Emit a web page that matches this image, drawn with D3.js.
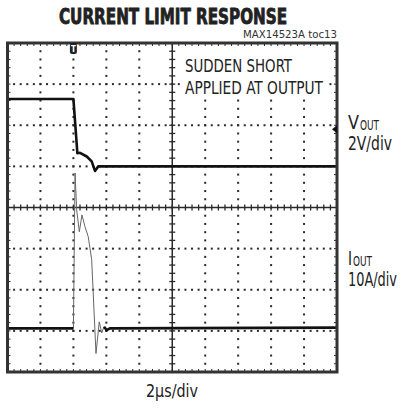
<!DOCTYPE html>
<html>
<head>
<meta charset="utf-8">
<script src="https://cdn.jsdelivr.net/npm/d3@7"></script>
<style>
  body { margin: 0; background: #fff; }
  text { font-family: "Liberation Sans Narrow", "DejaVu Sans Condensed", "Liberation Sans", sans-serif; }
</style>
</head>
<body>
<script>
// time in us relative to trigger (2us/div), levels in divisions from screen centre
const vout_t = [-4, 0.0, 0.24, 0.40, 0.81, 1.11, 1.31, 1.51, 16];
const vout_v = [2.64, 2.64, 1.32, 1.33, 1.24, 1.12, 0.89, 1.00, 1.00];

const iout_t = [-4, 0.0, 0.10, 0.20, 0.36, 0.52, 0.70, 0.90, 1.11, 1.37, 1.57, 1.72, 1.86, 2.02, 2.22, 16];
const iout_v = [-2.94, -2.94, 0.84, -0.06, -0.59, -0.18, -0.46, -0.71, -1.27, -3.55, -2.78, -3.05, -2.90, -2.98, -2.94, -2.92];

const xDivs = d3.range(-4, 16.001, 2);
const yDivs = d3.range(-4, 4.001, 1);
const voutRef = 1.9;

const W = 402, H = 411;
const plot = {left: 7.5, right: 337, top: 43, bottom: 372};

const svg = d3.select('body').append('svg')
    .attr('width', W)
    .attr('height', H);

const x = d3.scaleLinear().domain([-4, 16]).range([plot.left, plot.right]);
const y = d3.scaleLinear().domain([-4, 4]).range([plot.bottom, plot.top]);

const ink = '#2a2a2a';

// dotted graticule
const minorX = d3.range(-4, 16.001, 0.4);
const minorY = d3.range(-4, 4.001, 0.2);
const grid = svg.append('g');
xDivs.filter(d => d > -4 && d < 16 && d !== 6).forEach(d => {
    grid.selectAll(null)
        .data(minorY.filter(v => v > -4 && v < 4))
        .enter().append('rect')
        .attr('x', x(d) - 1).attr('y', v => y(v) - 1)
        .attr('width', 2).attr('height', 2)
        .attr('fill', ink);
});
yDivs.filter(d => d > -4 && d < 4 && d !== 0).forEach(d => {
    grid.selectAll(null)
        .data(minorX.filter(v => v > -4 && v < 16))
        .enter().append('rect')
        .attr('x', v => x(v) - 1).attr('y', y(d) - 1)
        .attr('width', 2).attr('height', 2)
        .attr('fill', ink);
});

// white box under the annotation
svg.append('rect')
    .attr('x', 180).attr('y', 48).attr('width', 148).attr('height', 50)
    .attr('fill', '#fff');

// centre axes with minor ticks
const axes = svg.append('g').attr('stroke', ink);
axes.append('line')
    .attr('x1', x(6)).attr('x2', x(6)).attr('y1', plot.top).attr('y2', plot.bottom)
    .attr('stroke-width', 1.5);
axes.append('line')
    .attr('x1', plot.left).attr('x2', plot.right).attr('y1', y(0)).attr('y2', y(0))
    .attr('stroke-width', 1.5);
axes.selectAll('.cy').data(minorY).enter().append('line')
    .attr('x1', x(6) - 3).attr('x2', x(6) + 3)
    .attr('y1', d => y(d)).attr('y2', d => y(d))
    .attr('stroke-width', 1.3);
axes.selectAll('.cx').data(minorX).enter().append('line')
    .attr('x1', d => x(d)).attr('x2', d => x(d))
    .attr('y1', y(0) - 3).attr('y2', y(0) + 3)
    .attr('stroke-width', 1.3);

// edge ticks
axes.selectAll('.tt').data(minorX).enter().append('line')
    .attr('x1', d => x(d)).attr('x2', d => x(d))
    .attr('y1', plot.top).attr('y2', plot.top + 3)
    .attr('stroke-width', 1);
axes.selectAll('.tb').data(minorX).enter().append('line')
    .attr('x1', d => x(d)).attr('x2', d => x(d))
    .attr('y1', plot.bottom - 3).attr('y2', plot.bottom)
    .attr('stroke-width', 1);
axes.selectAll('.tl').data(minorY).enter().append('line')
    .attr('x1', plot.left).attr('x2', plot.left + 3)
    .attr('y1', d => y(d)).attr('y2', d => y(d))
    .attr('stroke-width', 1);
axes.selectAll('.tr').data(minorY).enter().append('line')
    .attr('x1', plot.right - 3).attr('x2', plot.right)
    .attr('y1', d => y(d)).attr('y2', d => y(d))
    .attr('stroke-width', 1);

// traces
const line = d3.line().x(d => x(d[0])).y(d => y(d[1]));
const vout = vout_t.map((t, i) => [t, vout_v[i]]);
const iout = iout_t.map((t, i) => [t, iout_v[i]]);

svg.append('path')
    .attr('d', line(iout))
    .attr('fill', 'none')
    .attr('stroke', '#666')
    .attr('stroke-width', 1);
svg.append('path')
    .attr('d', line(iout.filter(d => d[0] <= 0)))
    .attr('fill', 'none').attr('stroke', '#111').attr('stroke-width', 2.6);
svg.append('path')
    .attr('d', line(iout.filter(d => d[0] >= 1.86)))
    .attr('fill', 'none').attr('stroke', '#111').attr('stroke-width', 2.6);

svg.append('path')
    .attr('d', line(vout))
    .attr('fill', 'none')
    .attr('stroke', '#111')
    .attr('stroke-width', 2.6)
    .attr('stroke-linejoin', 'round');

// frame
svg.append('rect')
    .attr('x', plot.left).attr('y', plot.top)
    .attr('width', plot.right - plot.left).attr('height', plot.bottom - plot.top)
    .attr('fill', 'none').attr('stroke', '#333').attr('stroke-width', 3);

// trigger marker
const tg = svg.append('g').attr('transform', `translate(${x(0)},${plot.top})`);
tg.append('rect').attr('x', -3.5).attr('y', 0).attr('width', 7).attr('height', 11).attr('rx', 2).attr('fill', '#222');
tg.append('text').attr('x', 0).attr('y', 9).attr('text-anchor', 'middle')
    .attr('font-size', 8).attr('font-weight', 'bold').attr('fill', '#fff').text('T');

// vout reference marker
svg.append('path')
    .attr('d', `M${plot.right - 5},${y(voutRef)} L${plot.right},${y(voutRef) - 4} L${plot.right},${y(voutRef) + 4} Z`)
    .attr('fill', '#111');

// texts
svg.append('text')
    .attr('x', 173).attr('y', 24)
    .attr('text-anchor', 'middle')
    .attr('font-size', 21).attr('font-weight', 'bold')
    .attr('stroke', '#222').attr('stroke-width', 0.8)
    .attr('textLength', 228).attr('lengthAdjust', 'spacingAndGlyphs')
    .attr('fill', '#222')
    .text('CURRENT LIMIT RESPONSE');

svg.append('text')
    .attr('x', 337).attr('y', 38)
    .attr('text-anchor', 'end')
    .attr('font-size', 10)
    .attr('textLength', 94).attr('lengthAdjust', 'spacingAndGlyphs')
    .attr('fill', '#333')
    .text('MAX14523A toc13');

svg.append('text')
    .attr('x', 185).attr('y', 71.5)
    .attr('font-size', 18)
    .attr('textLength', 107).attr('lengthAdjust', 'spacingAndGlyphs')
    .attr('fill', '#222')
    .text('SUDDEN SHORT');
svg.append('text')
    .attr('x', 185).attr('y', 93.5)
    .attr('font-size', 18)
    .attr('textLength', 138).attr('lengthAdjust', 'spacingAndGlyphs')
    .attr('fill', '#222')
    .text('APPLIED AT OUTPUT');

function chLabel(sym, symW, yy, scale, scaleW) {
    svg.append('text').attr('x', 348).attr('y', yy).attr('font-size', 19).attr('fill', '#222')
        .attr('textLength', symW).attr('lengthAdjust', 'spacingAndGlyphs').text(sym);
    svg.append('text').attr('x', 349 + symW).attr('y', yy + 1).attr('font-size', 14).attr('fill', '#222')
        .attr('textLength', 19).attr('lengthAdjust', 'spacingAndGlyphs').text('OUT');
    svg.append('text').attr('x', 348).attr('y', yy + 21).attr('font-size', 19).attr('fill', '#222')
        .attr('textLength', scaleW).attr('lengthAdjust', 'spacingAndGlyphs').text(scale);
}
chLabel('V', 11, 129, '2V/div', 44);
chLabel('I', 4, 265, '10A/div', 49);

svg.append('text')
    .attr('x', 172).attr('y', 397)
    .attr('text-anchor', 'middle')
    .attr('font-size', 17)
    .attr('textLength', 52).attr('lengthAdjust', 'spacingAndGlyphs')
    .attr('fill', '#222')
    .text('2\u03BCs/div');
</script>
</body>
</html>
